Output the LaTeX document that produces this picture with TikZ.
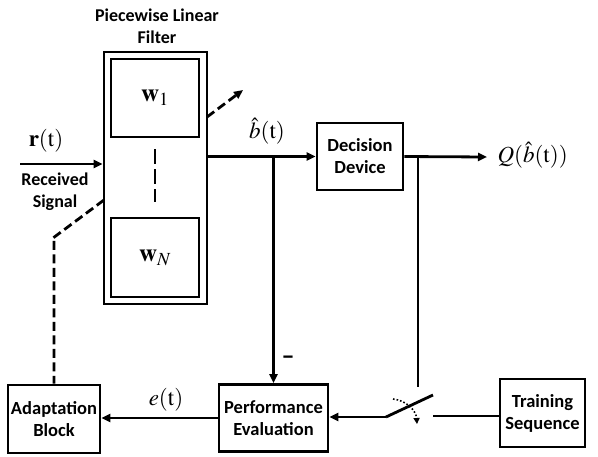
\documentclass[tikz,border=0pt]{standalone}
\usepackage{mathptmx}
\usepackage[no-math]{fontspec}
\usetikzlibrary{arrows.meta}
\newfontfamily\lblfont{Carlito}

\begin{document}
\begin{tikzpicture}[x=1pt, y=-1pt, >={Triangle[length=9pt, width=8pt]}]
        \tikzstyle{blk} = [draw, line width=2.8pt, rectangle, inner sep=0pt, align=center, font=\lblfont\bfseries\fontsize{18.5}{22}\selectfont]
        \tikzstyle{txt} = [align=center, font=\lblfont\bfseries\fontsize{18}{22}\selectfont]
        \tikzstyle{sig} = [font=\fontsize{23}{26}\selectfont]
        \tikzstyle{wire} = [line width=2.8pt]
        \tikzstyle{dsh} = [dash pattern=on 9pt off 4.5pt]
        \useasboundingbox (0,0) rectangle (598,456);
        \node[blk, minimum width=103pt, minimum height=252pt] (F) at (155.5,178) {};
        \node[blk, minimum width=88pt, minimum height=78pt, font=\fontsize{25}{25}\selectfont] (W1) at (155,98) {$\mathbf{w}_1$};
        \node[blk, minimum width=88pt, minimum height=79pt, font=\fontsize{25}{25}\selectfont] (WN) at (155,257.5) {$\mathbf{w}_N$};
        \node[blk, minimum width=86pt, minimum height=67pt] (DD) at (360,156.5) {Decision\\Device};
        \node[blk, minimum width=109pt, minimum height=67pt] (PE) at (273.5,418) {Performance\\Evaluation};
        \node[blk, minimum width=92pt, minimum height=68pt] (AB) at (54,419) {Adaptation\\Block};
        \node[blk, minimum width=85pt, minimum height=68pt] (TS) at (542.5,413) {Training\\Sequence};
        \node[txt] (title) at (157,26) {Piecewise Linear\\Filter};
        \node[txt] (rx) at (55,192) {Received\\Signal};
        \node[sig] (r) at (46,141) {$\mathbf{r}(\mathrm{t})$};
        \node[sig] (bh) at (267,131) {$\hat{b}(\mathrm{t})$};
        \node[sig] (e) at (166,400) {$e(\mathrm{t})$};
        \node[txt, font=\lblfont\bfseries\fontsize{26}{26}\selectfont] (minus) at (288,360) {\textendash};
        \coordinate (in) at (20,164);
        \coordinate (out) at (487,157);
        \node[sig, anchor=west] (Q) at (494,155) {$Q(\hat{b}(\mathrm{t}))$};
        \coordinate (d1) at (104,200);
        \coordinate (d2) at (53,238);
        \coordinate (u1) at (207,117);
        \coordinate (u2) at (243,90);
        \coordinate (sw0) at (418,387);
        \coordinate (sw1) at (386,417);
        \coordinate (sw2) at (433,395);
        \coordinate (sw3) at (433,416);
        % filter internals
        \draw[wire, dash pattern=on 15pt off 5pt] ([yshift=-11pt]W1.south) -- ([yshift=15pt]WN.north);
        \draw[wire, dsh, ->] (u1) -- (u2);
        \draw[wire, dsh] (d1) -- (d2) -- (AB.north |- d2) -- (AB.north);
        % signal path
        \draw[wire, ->] (in) -- (in -| F.west);
        \draw[wire, ->] (F.east |- DD.west) -- (DD.west);
        \draw[wire, ->] (PE.north |- DD.west) -- (PE.north);
        \draw[wire, ->] (DD.east) -- (out);
        \draw[wire] (sw0 |- DD.east) -- (sw0);
        \draw[wire, ->] (PE.west) -- (PE.west -| AB.east);
        % switch
        \draw[wire, ->] (sw1) -- (sw1 -| PE.east);
        \draw[wire] (sw1) -- (sw2);
        \draw[wire] (sw3) -- (sw3 -| TS.west);
        \draw[line width=1.6pt, dotted, -{Triangle[length=6pt, width=6pt]}] (393,399) to[bend left=40] (417,424);
      \end{tikzpicture}
\end{document}
